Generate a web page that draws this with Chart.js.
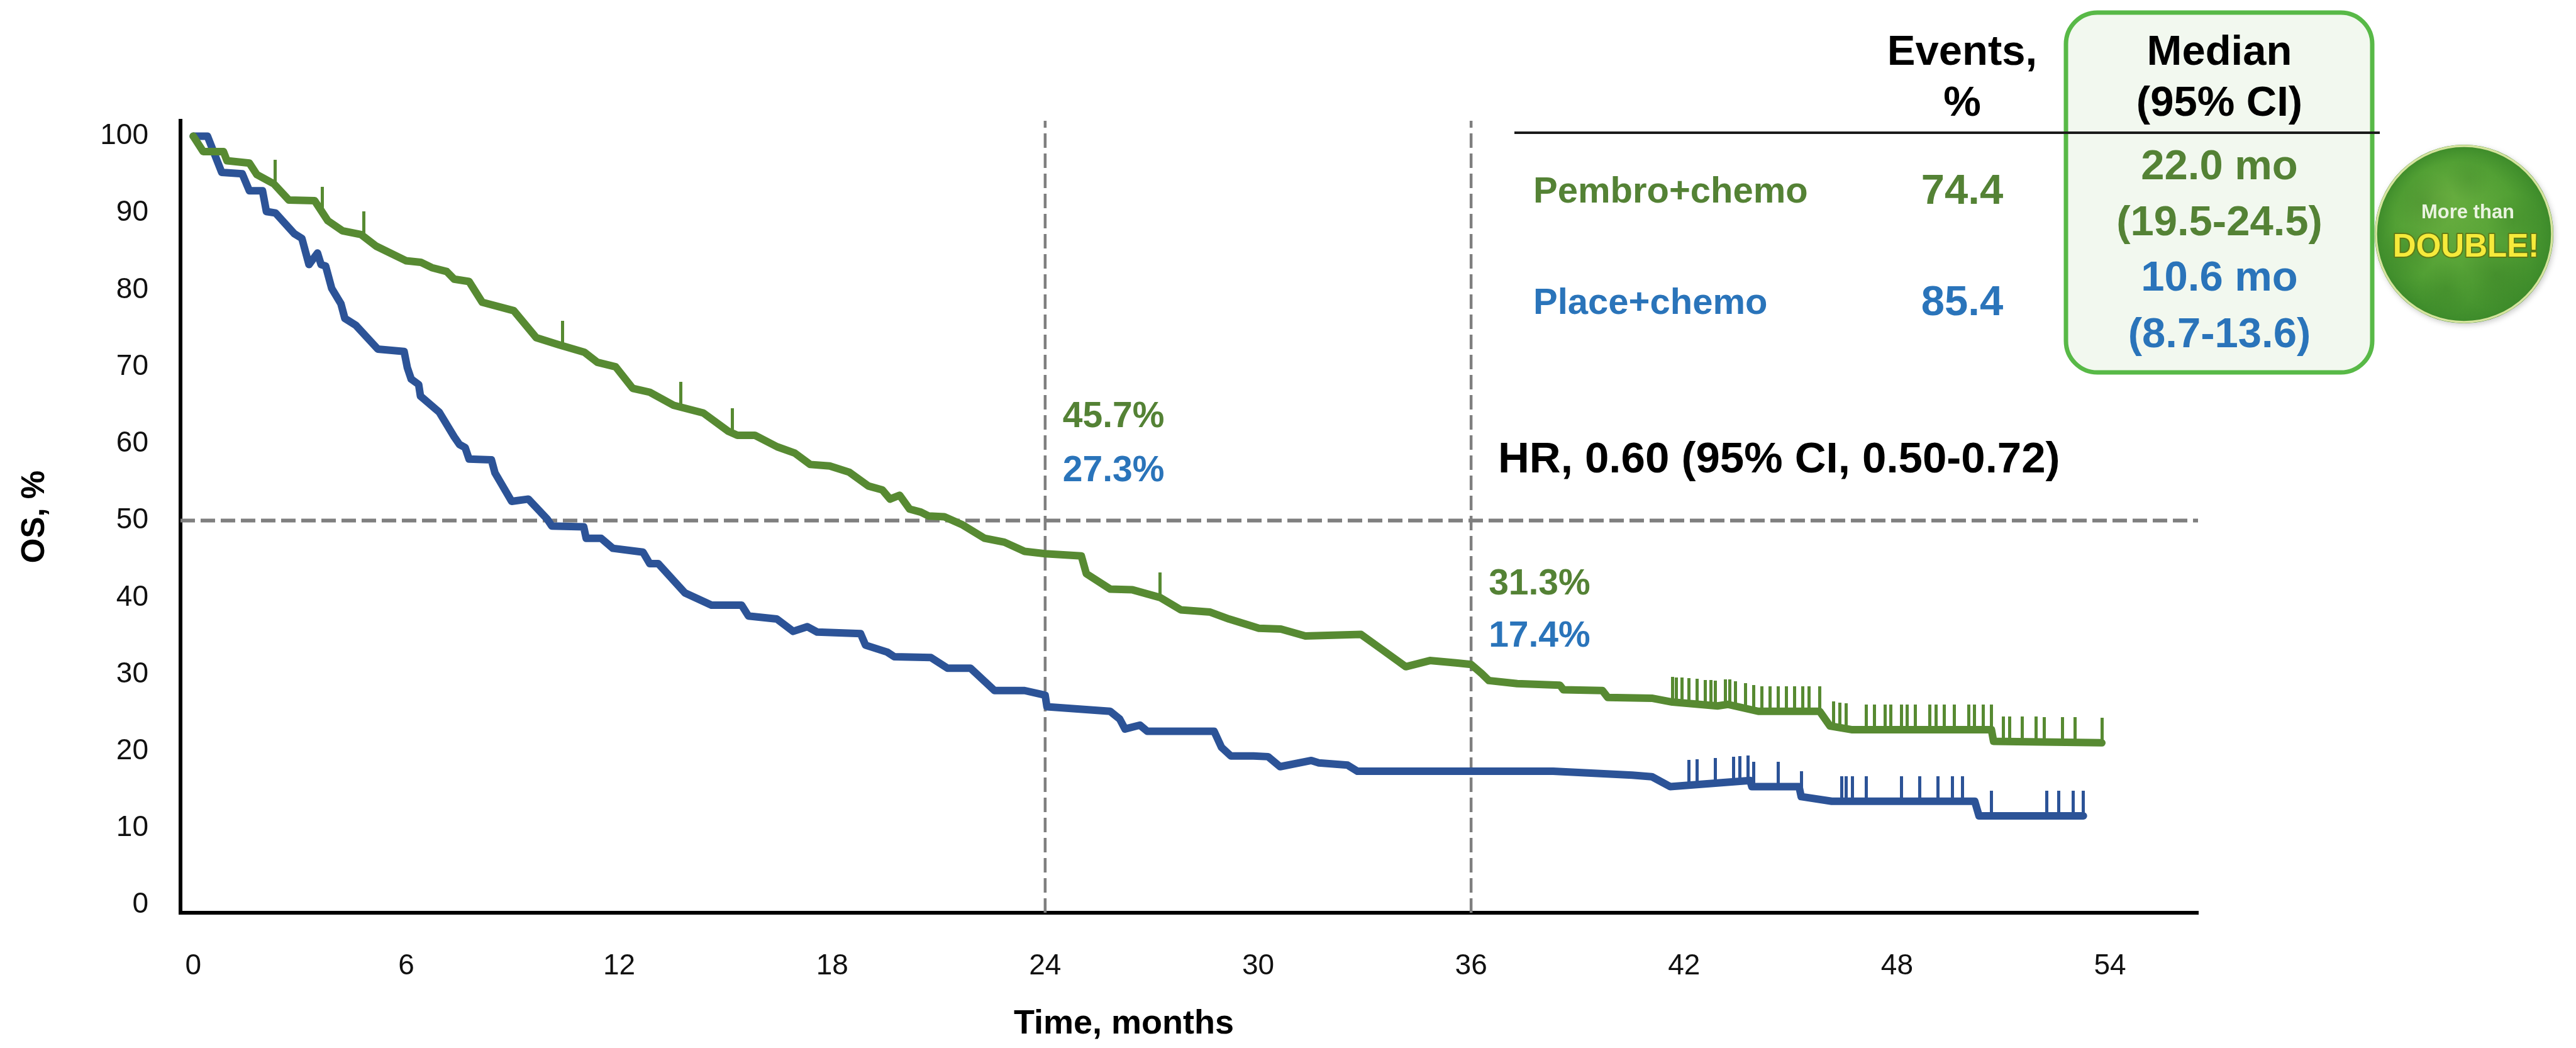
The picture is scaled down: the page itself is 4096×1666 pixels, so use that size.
<!DOCTYPE html>
<html>
<head>
<meta charset="utf-8">
<title>Overall survival</title>
<script src="https://cdn.jsdelivr.net/npm/chart.js@4.4.1/dist/chart.umd.min.js"></script>
<style>
  html, body { margin: 0; padding: 0; background: #fff; }
  #wrap { width: 4096px; height: 1666px; }
</style>
</head>
<body>
<div id="wrap"><canvas id="osChart" width="4096" height="1666"></canvas></div>
<script>
// Kaplan-Meier overall survival: pembrolizumab + chemo vs placebo + chemo

// curve vertices (months, OS %)
const pembroMonths = [0, 0.28, 0.85, 0.95, 1.58, 1.79, 2.27, 2.69, 3.42, 3.79, 4.2, 4.73, 5.15, 5.99, 6.41, 6.72, 7.14, 7.35, 7.77, 8.14,
  9.03, 9.66, 10.28, 11.02, 11.38, 11.9, 12.38, 12.86, 13.53, 14.37, 15.08, 15.33, 15.82, 16.45, 16.94, 17.38, 17.93, 18.48, 19.02, 19.41,
  19.63, 19.9, 20.18, 20.5, 20.72, 21.16, 21.65, 22.29, 22.85, 23.42, 24.0, 25.02, 25.16, 25.83, 26.46, 27.24, 27.82, 28.65, 29.18, 29.81,
  30.02, 30.64, 31.33, 32.9, 33.47, 34.16, 34.84, 35.57, 36.0, 36.3, 36.5, 37.3, 38.5, 38.6, 39.7, 39.85, 41.09, 41.67, 42.94, 43.23,
  44.09, 45.82, 46.11, 46.74, 50.66, 50.72, 53.77];
const pembroOS = [100, 98.0, 98.0, 96.8, 96.5, 95.0, 93.8, 91.7, 91.6, 89.0, 87.7, 87.2, 85.7, 83.8, 83.6, 82.9, 82.4, 81.4, 81.1, 78.4,
  77.3, 73.8, 72.9, 71.9, 70.6, 70.0, 67.2, 66.7, 65.0, 64.0, 61.6, 61.1, 61.1, 59.6, 58.8, 57.3, 57.1, 56.3, 54.5, 54.0,
  52.8, 53.3, 51.5, 51.1, 50.6, 50.5, 49.5, 47.7, 47.2, 46.0, 45.7, 45.4, 43.1, 41.1, 41.0, 40.0, 38.4, 38.1, 37.2, 36.3,
  36.0, 35.9, 35.0, 35.2, 33.3, 31.0, 31.8, 31.5, 31.3, 30.1, 29.2, 28.8, 28.6, 28.0, 27.9, 27.0, 26.9, 26.4, 25.9, 26.1,
  25.2, 25.2, 23.3, 22.8, 22.8, 21.3, 21.1];

const placeboMonths = [0, 0.4, 0.8, 1.38, 1.58, 1.95, 2.06, 2.32, 2.85, 3.06, 3.26, 3.5, 3.6, 3.73, 3.9, 4.16, 4.27, 4.58, 5.2, 5.94,
  6.03, 6.14, 6.35, 6.4, 6.93, 7.35, 7.5, 7.66, 7.77, 8.4, 8.5, 8.97, 9.44, 9.97, 10.1, 11.0, 11.07, 11.49, 11.82, 12.67,
  12.86, 13.1, 13.85, 14.6, 15.45, 15.64, 16.44, 16.9, 17.3, 17.58, 18.8, 18.94, 19.55, 19.75, 20.78, 21.25, 21.9, 22.57, 23.42, 24.0,
  24.05, 25.83, 26.1, 26.25, 26.67, 26.88, 28.76, 28.97, 29.23, 29.87, 30.28, 30.62, 31.5, 31.71, 32.52, 32.8, 36.0, 38.31, 40.54, 41.09,
  41.61, 43.86, 43.91, 45.24, 45.3, 46.16, 50.19, 50.31, 53.25];
const placeboOS = [100, 100, 95.3, 95.1, 92.9, 92.9, 90.2, 90.0, 87.3, 86.7, 83.3, 84.8, 83.3, 83.1, 80.2, 78.2, 76.3, 75.4, 72.3, 72.0,
  69.9, 68.4, 67.7, 66.2, 64.1, 60.9, 59.9, 59.5, 58.0, 57.9, 56.2, 52.5, 52.8, 50.2, 49.3, 49.2, 47.7, 47.7, 46.4, 45.9,
  44.4, 44.4, 40.6, 39.0, 39.0, 37.6, 37.2, 35.6, 36.2, 35.5, 35.3, 33.8, 32.9, 32.3, 32.2, 30.8, 30.8, 27.9, 27.9, 27.3,
  25.8, 25.2, 24.2, 22.9, 23.4, 22.6, 22.6, 20.5, 19.4, 19.4, 19.3, 18.0, 18.8, 18.5, 18.2, 17.4, 17.4, 17.4, 16.9, 16.7,
  15.4, 16.2, 15.4, 15.4, 14.1, 13.5, 13.5, 11.6, 11.6];

// censoring times (months)
const pembroCensored = [2.3, 3.63, 4.8, 10.4, 13.74, 15.19, 27.24,
  41.67, 41.78, 41.95, 42.13, 42.36, 42.59, 42.76, 42.88, 43.16, 43.28, 43.45, 43.74, 43.97, 44.2, 44.43, 44.66, 44.89, 45.12,
  45.35, 45.53, 45.82, 46.22, 46.39, 46.56, 47.14, 47.37, 47.66, 47.83, 48.12, 48.29, 48.52, 48.93, 49.1, 49.33, 49.62, 50.02,
  50.19, 50.43, 50.66, 51.0, 51.17, 51.52, 51.92, 52.15, 52.67, 53.02, 53.77];
const placeboCensored = [42.13, 42.36, 42.88, 43.39, 43.57, 43.8, 43.97, 44.66, 45.3, 46.45, 46.56, 46.74, 47.14, 48.12, 48.64,
  49.16, 49.56, 49.85, 50.66, 52.21, 52.56, 52.96, 53.25];

// landmark rates
const landmarkMonths = [24, 36];
const pembroLandmark = [45.7, 31.3];
const placeboLandmark = [27.3, 17.4];

// summary table
const armLabels = ['Pembro+chemo', 'Place+chemo'];
const eventsPct = ['74.4', '85.4'];
const medianOS = ['22.0 mo', '10.6 mo'];
const medianCI = ['(19.5-24.5)', '(8.7-13.6)'];
const hrLabel = 'HR, 0.60 (95% CI, 0.50-0.72)';

// axes
const monthTicks = [0, 6, 12, 18, 24, 30, 36, 42, 48, 54];
const osTicks = [0, 10, 20, 30, 40, 50, 60, 70, 80, 90, 100];
const X_MIN = -0.36, X_MAX = 56.48;
const Y_MIN = -1.0, Y_MAX = 102.0;
const MEDIAN_LINE = 50;

const GREEN = '#578a32';
const BLUE = '#2c5397';
const GREEN_TEXT = '#548235';
const BLUE_TEXT = '#2a74ba';
const DASH_GREY = '#7f7f7f';
const FONT = '"Liberation Sans", Arial, Helvetica, sans-serif';

Chart.defaults.font.family = FONT;

const toPoints = (xs, ys) => xs.map((x, i) => ({ x: x, y: ys[i] }));

// OS on the drawn polyline at month t (so the censor marks sit on the curve)
function osAt(months, os, t) {
  for (let i = 1; i < months.length; i++) {
    if (t <= months[i]) {
      const f = (t - months[i - 1]) / (months[i] - months[i - 1]);
      return os[i - 1] + f * (os[i] - os[i - 1]);
    }
  }
  return os[os.length - 1];
}

// vertical censor tick, drawn above the point it is centred on
function censorMark(color) {
  const len = 40, w = 5;
  const c = document.createElement('canvas');
  c.width = w;
  c.height = len * 2;
  const g = c.getContext('2d');
  g.fillStyle = color;
  g.fillRect(0, 0, w, len);
  return c;
}

function roundRectPath(ctx, x, y, w, h, r) {
  ctx.beginPath();
  ctx.moveTo(x + r, y);
  ctx.lineTo(x + w - r, y);
  ctx.arcTo(x + w, y, x + w, y + r, r);
  ctx.lineTo(x + w, y + h - r);
  ctx.arcTo(x + w, y + h, x + w - r, y + h, r);
  ctx.lineTo(x + r, y + h);
  ctx.arcTo(x, y + h, x, y + h - r, r);
  ctx.lineTo(x, y + r);
  ctx.arcTo(x, y, x + r, y, r);
  ctx.closePath();
}

function drawText(ctx, str, x, y, size, color, align) {
  ctx.font = 'bold ' + size + 'px ' + FONT;
  ctx.fillStyle = color;
  ctx.textAlign = align || 'center';
  ctx.textBaseline = 'middle';
  ctx.fillText(str, x, y);
}

function drawBadge(ctx, cx, cy, r) {
  ctx.save();
  ctx.shadowColor = 'rgba(0,0,0,0.2)';
  ctx.shadowBlur = 8;
  ctx.shadowOffsetX = 2;
  ctx.shadowOffsetY = 3;
  const g = ctx.createRadialGradient(cx - r * 0.25, cy - r * 0.35, r * 0.1, cx, cy, r);
  g.addColorStop(0, '#67ad3f');
  g.addColorStop(0.65, '#52a034');
  g.addColorStop(1, '#3c8a2a');
  ctx.beginPath();
  ctx.arc(cx, cy, r, 0, Math.PI * 2);
  ctx.fillStyle = g;
  ctx.fill();
  ctx.restore();

  // mottled darker patches
  ctx.save();
  ctx.beginPath();
  ctx.arc(cx, cy, r, 0, Math.PI * 2);
  ctx.clip();
  [[-0.45, -0.35, 0.35, 0.22], [0.35, 0.45, 0.4, 0.25], [0.55, -0.15, 0.3, 0.18],
   [-0.2, 0.6, 0.3, 0.2], [0.05, -0.62, 0.25, 0.14], [-0.62, 0.2, 0.3, 0.2]].forEach(s => {
    const px = cx + s[0] * r, py = cy + s[1] * r, rr = s[2] * r;
    const sg = ctx.createRadialGradient(px, py, 0, px, py, rr);
    sg.addColorStop(0, 'rgba(35,100,25,' + s[3] + ')');
    sg.addColorStop(1, 'rgba(35,100,25,0)');
    ctx.fillStyle = sg;
    ctx.fillRect(px - rr, py - rr, rr * 2, rr * 2);
  });
  ctx.restore();

  ctx.beginPath();
  ctx.arc(cx, cy, r - 2, 0, Math.PI * 2);
  ctx.strokeStyle = '#d6e49e';
  ctx.lineWidth = 3.5;
  ctx.stroke();

  drawText(ctx, 'More than', cx + 6, cy - 34, 31, '#eaf3e0');
  ctx.save();
  ctx.font = 'bold 51px ' + FONT;
  ctx.textAlign = 'center';
  ctx.textBaseline = 'middle';
  ctx.lineJoin = 'round';
  ctx.lineWidth = 4;
  ctx.strokeStyle = '#5f7a16';
  ctx.strokeText('DOUBLE!', cx + 3, cy + 22);
  ctx.fillStyle = '#f6ea3b';
  ctx.fillText('DOUBLE!', cx + 3, cy + 22);
  ctx.restore();
}

const annotations = {
  id: 'osAnnotations',
  afterDraw(chart) {
    const ctx = chart.ctx;
    const xs = chart.scales.x;
    ctx.save();

    // median column box
    roundRectPath(ctx, 3285, 20, 487, 572, 50);
    ctx.fillStyle = '#f2f8ef';
    ctx.fill();
    ctx.lineWidth = 7;
    ctx.strokeStyle = '#58b947';
    ctx.stroke();

    // header rule
    ctx.fillStyle = '#1a1a1a';
    ctx.fillRect(2408, 209, 1376, 4);

    const colEvents = 3120, colMedian = 3529;
    drawText(ctx, 'Events,', colEvents, 85, 67, '#000');
    drawText(ctx, '%', colEvents, 166, 67, '#000');
    drawText(ctx, 'Median', colMedian, 85, 67, '#000');
    drawText(ctx, '(95% CI)', colMedian, 166, 67, '#000');

    const rowY = [306, 483];
    const rowMedY = [[267, 356], [444, 534]];
    const rowColor = [GREEN_TEXT, BLUE_TEXT];
    armLabels.forEach((name, i) => {
      drawText(ctx, name, 2438, rowY[i], 58, rowColor[i], 'left');
      drawText(ctx, eventsPct[i], colEvents, rowY[i], 67, rowColor[i]);
      drawText(ctx, medianOS[i], colMedian, rowMedY[i][0], 67, rowColor[i]);
      drawText(ctx, medianCI[i], colMedian, rowMedY[i][1], 67, rowColor[i]);
    });

    drawBadge(ctx, 3918, 372, 142);

    drawText(ctx, hrLabel, 2382, 732, 69, '#000', 'left');

    // landmark rates beside the 24 and 36 month lines
    const labelY = [[663, 749], [929, 1012]];
    landmarkMonths.forEach((m, i) => {
      const lx = xs.getPixelForValue(m) + 28;
      drawText(ctx, pembroLandmark[i].toFixed(1) + '%', lx, labelY[i][0], 57, GREEN_TEXT, 'left');
      drawText(ctx, placeboLandmark[i].toFixed(1) + '%', lx, labelY[i][1], 57, BLUE_TEXT, 'left');
    });

    // x-axis title
    drawText(ctx, 'Time, months', 1787, 1628, 54, '#000');
    ctx.restore();
  }
};

const dashed = (pts, width, order) => ({
  data: pts,
  showLine: true,
  borderColor: DASH_GREY,
  borderWidth: width,
  borderDash: [23, 9],
  pointRadius: 0,
  order: order
});

const curve = (label, xs, ys, color) => ({
  label: label,
  data: toPoints(xs, ys),
  showLine: true,
  borderColor: color,
  borderWidth: 12,
  borderJoinStyle: 'round',
  borderCapStyle: 'round',
  pointRadius: 0,
  order: 2
});

const datasets = [
  dashed([{ x: X_MIN, y: MEDIAN_LINE }, { x: X_MAX, y: MEDIAN_LINE }], 6, 5),
  ...landmarkMonths.map(m => dashed([{ x: m, y: Y_MIN }, { x: m, y: Y_MAX }], 4.5, 4)),
  curve('Pembro+chemo', pembroMonths, pembroOS, GREEN),
  curve('Place+chemo', placeboMonths, placeboOS, BLUE),
  {
    data: pembroCensored.map(t => ({ x: t, y: osAt(pembroMonths, pembroOS, t) })),
    pointStyle: censorMark(GREEN),
    pointRadius: 2,
    order: 1
  },
  {
    data: placeboCensored.map(t => ({ x: t, y: osAt(placeboMonths, placeboOS, t) })),
    pointStyle: censorMark(BLUE),
    pointRadius: 2,
    order: 1
  }
];

new Chart(document.getElementById('osChart').getContext('2d'), {
  type: 'scatter',
  data: { datasets: datasets },
  options: {
    responsive: false,
    animation: false,
    devicePixelRatio: 1,
    events: [],
    layout: { padding: { left: 0, top: 192, right: 601, bottom: 0 } },
    plugins: {
      legend: { display: false },
      tooltip: { enabled: false }
    },
    scales: {
      x: {
        type: 'linear',
        min: X_MIN,
        max: X_MAX,
        afterBuildTicks: s => { s.ticks = monthTicks.map(v => ({ value: v })); },
        afterFit: s => { s.height = 215; },
        grid: { display: false, drawTicks: false },
        border: { display: true, color: '#000', width: 6 },
        ticks: { padding: 58, autoSkip: false, maxRotation: 0, color: '#111', font: { size: 46 } }
      },
      y: {
        type: 'linear',
        min: Y_MIN,
        max: Y_MAX,
        afterBuildTicks: s => { s.ticks = osTicks.map(v => ({ value: v })); },
        afterFit: s => { s.width = 287; },
        grid: { display: false, drawTicks: false },
        border: { display: true, color: '#000', width: 6 },
        ticks: { padding: 51, autoSkip: false, color: '#111', font: { size: 46 } },
        title: {
          display: true,
          text: 'OS, %',
          color: '#000',
          font: { size: 51, weight: 'bold' },
          padding: { top: 25, bottom: 0 }
        }
      }
    }
  },
  plugins: [annotations]
});
</script>
</body>
</html>
